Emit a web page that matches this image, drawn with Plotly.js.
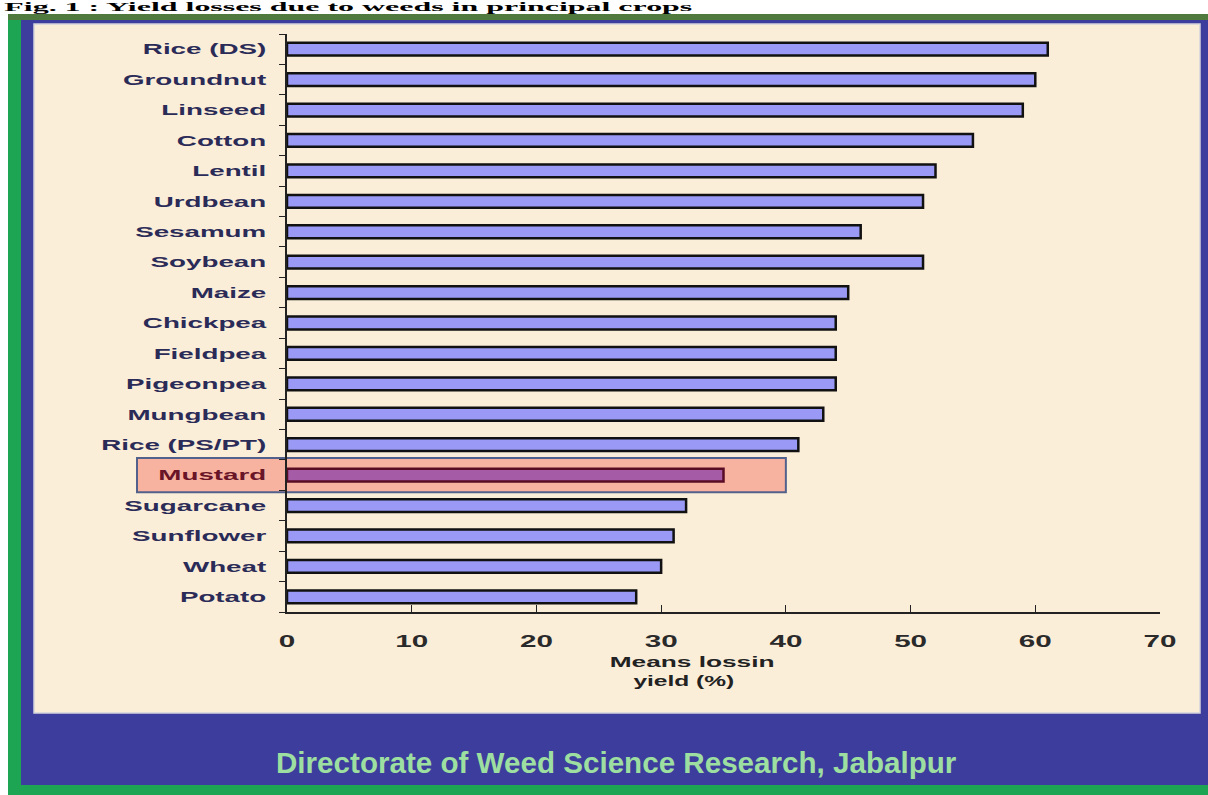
<!DOCTYPE html>
<html>
<head>
<meta charset="utf-8">
<script src="https://cdn.plot.ly/plotly-3.0.1.min.js"></script>
<style>
  html, body { margin: 0; padding: 0; background: #ffffff; }
  #chart { width: 1208px; height: 795px; }
</style>
</head>
<body>
<div id="chart"></div>
<script>
// ---------------- data ----------------
const crops = ["Rice (DS)", "Groundnut", "Linseed", "Cotton", "Lentil", "Urdbean", "Sesamum",
               "Soybean", "Maize", "Chickpea", "Fieldpea", "Pigeonpea", "Mungbean",
               "Rice (PS/PT)", "Mustard", "Sugarcane", "Sunflower", "Wheat", "Potato"];
const yieldLoss = [61, 60, 59, 55, 52, 51, 46, 51, 45, 44, 44, 44, 43, 41, 35, 32, 31, 30, 28];
const highlightCrop = "Mustard";
const xTickVals = [0, 10, 20, 30, 40, 50, 60, 70];
const highlightLimit = 40;
const chartTitle = "Fig. 1 : Yield losses due to weeds in principal crops";
const axisTitleLines = ["Means lossin", "yield (%)"];
const bannerText = "Directorate of Weed Science Research, Jabalpur";

// ---------------- layout helpers ----------------
const L = 287, R = 1160, T = 34, B = 612;
const fx = px => (px - L) / (R - L);
const fy = py => (B - py) / (B - T);

const hiIdx = crops.indexOf(highlightCrop);
const barColors = crops.map(c => c === highlightCrop ? "#a65ba6" : "#9a9af6");
const lineColors = crops.map(c => c === highlightCrop ? "#5a0c24" : "#111111");
const tickText = crops.map(c => c === highlightCrop ? '<span style="color:#6a1428">' + c + '</span>' : c);

const trace = {
  type: "bar",
  orientation: "h",
  x: yieldLoss,
  y: crops,
  width: 0.42,
  marker: { color: barColors, line: { color: lineColors, width: 2.5 } },
  hoverinfo: "x+y"
};

const shapes = [
  { type: "rect", xref: "paper", yref: "paper", layer: "below",
    x0: fx(8), x1: fx(1240), y0: fy(14), y1: fy(820), fillcolor: "#1da553", line: { width: 0 } },
  { type: "rect", xref: "paper", yref: "paper", layer: "below",
    x0: fx(8), x1: fx(1240), y0: fy(14), y1: fy(20), fillcolor: "#50793e", line: { width: 0 } },
  { type: "rect", xref: "paper", yref: "paper", layer: "below",
    x0: fx(21), x1: fx(1240), y0: fy(20), y1: fy(785), fillcolor: "#3d3d9d", line: { width: 0 } },
  { type: "rect", xref: "paper", yref: "paper", layer: "below",
    x0: fx(34), x1: fx(1200), y0: fy(24), y1: fy(713), fillcolor: "#fbeed9",
    line: { color: "#d4d4dc", width: 1.5 } },
  { type: "rect", xref: "paper", yref: "y", layer: "below",
    x0: fx(137), x1: highlightLimit / xTickVals[xTickVals.length - 1],
    y0: hiIdx - 0.56, y1: hiIdx + 0.56,
    fillcolor: "#f8b3a0", line: { color: "#52608c", width: 2 } }
];

const annotations = [
  { xref: "paper", yref: "paper", x: fx(348), y: fy(7), xanchor: "center", yanchor: "middle",
    text: "<b>" + chartTitle + "</b>", showarrow: false,
    font: { family: "Liberation Serif", size: 12, color: "#000000" } },
  { xref: "paper", yref: "paper", x: fx(616), y: fy(762), xanchor: "center", yanchor: "middle",
    text: bannerText, showarrow: false,
    font: { family: "Liberation Sans", size: 29.6, color: "#9ddfa0", weight: "bold" } },
  { xref: "paper", yref: "paper", x: fx(692), y: fy(661), xanchor: "center", yanchor: "middle",
    text: axisTitleLines[0], showarrow: false,
    font: { family: "Liberation Sans", size: 15, color: "#222222", weight: "bold" } },
  { xref: "paper", yref: "paper", x: fx(684), y: fy(681), xanchor: "center", yanchor: "middle",
    text: axisTitleLines[1], showarrow: false,
    font: { family: "Liberation Sans", size: 14, color: "#222222", weight: "bold" } }
];

const layout = {
  width: 1208, height: 795,
  margin: { l: L, r: 1208 - R, t: T, b: 795 - B, pad: 0 },
  paper_bgcolor: "#ffffff",
  plot_bgcolor: "rgba(0,0,0,0)",
  showlegend: false,
  font: { family: "Liberation Sans" },
  xaxis: {
    range: [xTickVals[0], xTickVals[xTickVals.length - 1]],
    tickvals: xTickVals,
    ticks: "inside", ticklen: 7, tickwidth: 1.3, tickcolor: "#222",
    showline: true, linecolor: "#222", linewidth: 1.5,
    showgrid: false, zeroline: false,
    ticklabelstandoff: 14,
    tickfont: { family: "Liberation Sans", size: 16, color: "#2a2a2a", weight: "bold" }
  },
  yaxis: {
    type: "category",
    autorange: "reversed",
    tickmode: "array", tickvals: crops, ticktext: tickText,
    tickson: "boundaries",
    ticks: "outside", ticklen: 6, tickwidth: 1.3, tickcolor: "#222",
    showline: true, linecolor: "#222", linewidth: 1.5,
    showgrid: false, zeroline: false,
    ticklabelstandoff: 16,
    tickfont: { family: "Liberation Sans", size: 15, color: "#2b2b58", weight: "bold" }
  },
  shapes: shapes,
  annotations: annotations
};

function stretch(selector, factor, target) {
  document.querySelectorAll(selector).forEach(t => {
    t.removeAttribute("textLength");
    const w = t.getComputedTextLength();
    if (w > 0) {
      const len = target ? target : w * factor;
      t.setAttribute("textLength", len.toFixed(1));
      t.setAttribute("lengthAdjust", "spacingAndGlyphs");
    }
  });
}

Plotly.newPlot("chart", [trace], layout, { displayModeBar: false }).then(() => {
  stretch(".ytick text", 1.85);
  stretch(".xtick text", 1.85);
  stretch('.annotation[data-index="0"] text.annotation-text', 1, 688);
  stretch('.annotation[data-index="2"] text.annotation-text', 1.75);
  stretch('.annotation[data-index="3"] text.annotation-text', 1.75);
});
</script>
</body>
</html>
